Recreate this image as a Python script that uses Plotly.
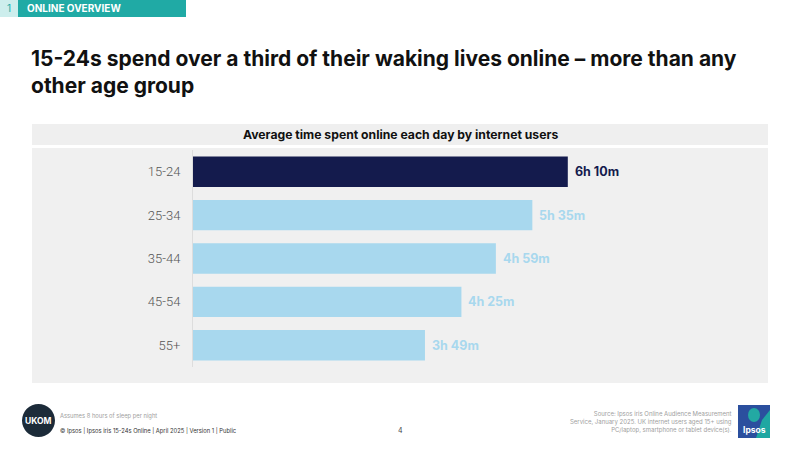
import plotly.graph_objects as go

categories = ["15-24", "25-34", "35-44", "45-54", "55+"]
minutes = [370, 335, 299, 265, 229]
bar_colors = ["#141b4d", "#a8d8ee", "#a8d8ee", "#a8d8ee", "#a8d8ee"]
label_colors = ["#141b4d", "#a8d8ee", "#a8d8ee", "#a8d8ee", "#a8d8ee"]
labels = [f"{m // 60}h {m % 60}m" for m in minutes]

W, H = 800, 450
def px(x):
    return x / W
def py(y):
    return 1 - y / H

fig = go.Figure()
fig.add_trace(go.Bar(
    x=minutes, y=categories, orientation="h",
    marker=dict(color=bar_colors, line=dict(width=0)),
    width=0.7,
    hoverinfo="skip",
))

shapes = [
    dict(type="rect", xref="paper", yref="paper", x0=px(32), x1=px(768), y0=py(145), y1=py(124),
         fillcolor="#efefef", line=dict(width=0), layer="below"),
    dict(type="rect", xref="paper", yref="paper", x0=px(32), x1=px(768), y0=py(383), y1=py(148),
         fillcolor="#f0f0f0", line=dict(width=0), layer="below"),
    dict(type="rect", xref="paper", yref="paper", x0=px(0), x1=px(18), y0=py(17), y1=py(0),
         fillcolor="#cdeeed", line=dict(width=0)),
    dict(type="rect", xref="paper", yref="paper", x0=px(18), x1=px(186), y0=py(17), y1=py(0),
         fillcolor="#20aaa5", line=dict(width=0)),
    dict(type="circle", xref="paper", yref="paper", x0=px(22), x1=px(55), y0=py(437), y1=py(404),
         fillcolor="#1c2b39", line=dict(width=0)),
    dict(type="rect", xref="paper", yref="paper", x0=px(738), x1=px(770), y0=py(438), y1=py(405),
         fillcolor="#2b4f9e", line=dict(width=0)),
    dict(type="path", xref="paper", yref="paper",
         path=f"M {px(756)},{py(438)} L {px(770)},{py(438)} L {px(770)},{py(410)} L {px(762)},{py(420)} Z",
         fillcolor="#1fa7a2", line=dict(width=0)),
    dict(type="circle", xref="paper", yref="paper", x0=px(748), x1=px(760), y0=py(422), y1=py(408),
         fillcolor="#23a9a3", line=dict(width=0)),
]

ann = [
    dict(text="1", x=px(9), y=py(8.5), xanchor="center", yanchor="middle",
         font=dict(family="Inter", size=10, color="#20aaa5")),
    dict(text="<b>ONLINE OVERVIEW</b>", x=px(25), y=py(8.5), xanchor="left", yanchor="middle",
         font=dict(family="Inter", size=10, color="#ffffff")),
    dict(text="<b>15-24s spend over a third of their waking lives online – more than any<br>other age group</b>",
         x=px(29), y=py(44), xanchor="left", yanchor="top", align="left",
         font=dict(family="Inter", size=21, color="#111111")),
    dict(text="<b>Average time spent online each day by internet users</b>",
         x=px(400), y=py(134.5), xanchor="center", yanchor="middle",
         font=dict(family="Inter", size=12.2, color="#111111")),
    dict(text="<b>UKOM</b>", x=px(38.5), y=py(420.5), xanchor="center", yanchor="middle",
         font=dict(family="Inter", size=8.5, color="#ffffff")),
    dict(text="Assumes 8 hours of sleep per night", x=px(58), y=py(416), xanchor="left", yanchor="middle",
         font=dict(family="Inter", size=5.8, color="#a0a0a0")),
    dict(text="© Ipsos | Ipsos iris 15-24s Online | April 2025 | Version 1 | Public", x=px(58), y=py(431),
         xanchor="left", yanchor="middle", font=dict(family="Inter", size=5.8, color="#333333")),
    dict(text="4", x=px(400), y=py(430), xanchor="center", yanchor="middle",
         font=dict(family="Inter", size=7, color="#444444")),
    dict(text="Source: Ipsos iris Online Audience Measurement<br>Service, January 2025. UK internet users aged 15+ using<br>PC/laptop, smartphone or tablet device(s).",
         x=px(734), y=py(422), xanchor="right", yanchor="middle", align="right",
         font=dict(family="Inter", size=6, color="#a0a0a0")),
    dict(text="<b>Ipsos</b>", x=px(754), y=py(430), xanchor="center", yanchor="middle",
         font=dict(family="Inter", size=8.5, color="#ffffff")),
]
for a in ann:
    a.setdefault("xref", "paper")
    a.setdefault("yref", "paper")
    a.setdefault("showarrow", False)

for cat, m, lab, col in zip(categories, minutes, labels, label_colors):
    ann.append(dict(text=f"<b>{lab}</b>", x=m, y=cat, xref="x", yref="y", xanchor="left",
                    yanchor="middle", xshift=5, showarrow=False,
                    font=dict(family="Inter", size=12.5, color=col)))

fig.update_layout(
    width=W, height=H,
    margin=dict(l=0, r=0, t=0, b=0),
    paper_bgcolor="#ffffff",
    plot_bgcolor="rgba(0,0,0,0)",
    showlegend=False,
    shapes=shapes,
    annotations=ann,
    bargap=0.3,
    xaxis=dict(domain=[px(193), px(740)], range=[0, 540], visible=False, fixedrange=True),
    yaxis=dict(domain=[py(367), py(150)], autorange="reversed", showgrid=False, zeroline=False,
               showline=True, linecolor="#dddddd", linewidth=1, ticks="",
               ticklabelstandoff=9,
               tickfont=dict(family="Roboto", size=13, color="#555555", weight=300), fixedrange=True),
)

fig.write_html("out.html")
